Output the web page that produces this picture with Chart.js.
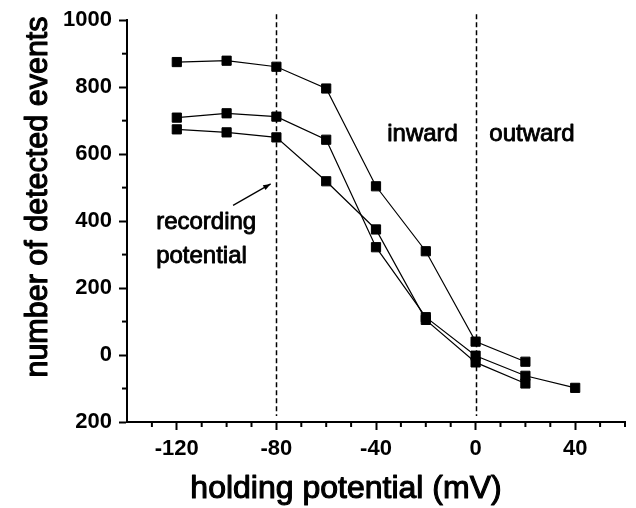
<!DOCTYPE html>
<html>
<head>
<meta charset="utf-8">
<style>
  html, body { margin: 0; padding: 0; background: #fff; }
</style>
<script src="https://cdn.jsdelivr.net/npm/chart.js@4"></script>
</head>
<body>
<canvas id="myChart" width="636" height="508"></canvas>
<script>
const holdingPotential = [-120, -100, -80, -60, -40, -20, 0, 20, 40];
const eventsTop = [875, 879, 861, 796, 504, 310, 40, -20];
const eventsMiddle = [709, 722, 712, 643, 322, 113, -2, -62, -98];
const eventsBottom = [674, 665, 650, 519, 375, 105, -22, -85];

const xTickValues = [-120, -80, -40, 0, 40];
const xTickLabels = ['-120', '-80', '-40', '0', '40'];
const xMinorTicks = [-130, -110, -100, -90, -70, -60, -50, -30, -20, -10, 10, 20, 30, 50, 60];
const yTickValues = [-200, 0, 200, 400, 600, 800, 1000];
const yTickLabels = ['200', '0', '200', '400', '600', '800', '1000'];
const yMinorTicks = [-100, 100, 300, 500, 700, 900];
const markerLines = [-80, 0];

const xTitle = 'holding potential (mV)';
const yTitle = 'number of detected events';

const FONT = "'Liberation Sans', Arial, sans-serif";
const ctx = document.getElementById('myChart').getContext('2d');

function toPoints(values) {
    return values.map((v, i) => ({ x: holdingPotential[i], y: v }));
}

function series(values) {
    return {
        data: toPoints(values),
        borderColor: '#000',
        backgroundColor: '#000',
        borderWidth: 1.2,
        pointStyle: 'rect',
        pointRadius: 6.5,
        pointBorderWidth: 1,
        tension: 0
    };
}

// fill plus a thin stroke, the scan makes the type look heavy
function heavyText(c, text, px, py) {
    c.fillText(text, px, py);
    c.strokeText(text, px, py);
}

// minor ticks, dashed lines, arrow, titles and the little labels
const extras = {
    id: 'extras',
    beforeDatasetsDraw(chart) {
        const { ctx, scales: { x }, chartArea } = chart;
        ctx.save();
        ctx.strokeStyle = '#000';
        ctx.lineWidth = 1.5;
        ctx.setLineDash([5, 3]);
        markerLines.forEach(v => {
            const px = Math.round(x.getPixelForValue(v)) + 0.5;
            ctx.beginPath();
            ctx.moveTo(px, chartArea.top - 6);
            ctx.lineTo(px, chartArea.bottom - 6);
            ctx.stroke();
        });
        ctx.restore();
    },
    afterDraw(chart) {
        const { ctx, scales: { x, y }, chartArea } = chart;
        ctx.save();
        ctx.strokeStyle = '#000';
        ctx.lineWidth = 2;
        xMinorTicks.forEach(v => {
            const px = x.getPixelForValue(v);
            ctx.beginPath();
            ctx.moveTo(px, chartArea.bottom);
            ctx.lineTo(px, chartArea.bottom + 5);
            ctx.stroke();
        });
        yMinorTicks.forEach(v => {
            const py = y.getPixelForValue(v);
            ctx.beginPath();
            ctx.moveTo(chartArea.left, py);
            ctx.lineTo(chartArea.left - 5, py);
            ctx.stroke();
        });

        // arrow to the recording potential
        const x0 = x.getPixelForValue(-97.4), y0 = y.getPixelForValue(447);
        const x1 = x.getPixelForValue(-82.3), y1 = y.getPixelForValue(511);
        const ang = Math.atan2(y1 - y0, x1 - x0);
        ctx.lineWidth = 1.3;
        ctx.beginPath();
        ctx.moveTo(x0, y0);
        ctx.lineTo(x1, y1);
        ctx.stroke();
        ctx.fillStyle = '#000';
        ctx.beginPath();
        ctx.moveTo(x1, y1);
        ctx.lineTo(x1 - 8 * Math.cos(ang - 0.35), y1 - 8 * Math.sin(ang - 0.35));
        ctx.lineTo(x1 - 8 * Math.cos(ang + 0.35), y1 - 8 * Math.sin(ang + 0.35));
        ctx.closePath();
        ctx.fill();

        ctx.lineWidth = 0.9;
        ctx.lineJoin = 'round';
        ctx.font = '24px ' + FONT;
        ctx.textAlign = 'left';
        ctx.textBaseline = 'alphabetic';
        heavyText(ctx, 'recording', x.getPixelForValue(-128.3), y.getPixelForValue(376));
        heavyText(ctx, 'potential', x.getPixelForValue(-128.3), y.getPixelForValue(275));
        heavyText(ctx, 'inward', x.getPixelForValue(-35.5), y.getPixelForValue(638));
        heavyText(ctx, 'outward', x.getPixelForValue(5.5), y.getPixelForValue(638));

        // axis titles, placed off-centre like the original
        ctx.lineWidth = 1.1;
        ctx.textAlign = 'center';
        ctx.font = '32px ' + FONT;
        heavyText(ctx, xTitle, 346, 498);
        ctx.translate(47, 197);
        ctx.rotate(-Math.PI / 2);
        ctx.font = '30.5px ' + FONT;
        heavyText(ctx, yTitle, 0, 0);
        ctx.restore();
    }
};

new Chart(ctx, {
    type: 'line',
    data: {
        datasets: [series(eventsTop), series(eventsMiddle), series(eventsBottom)]
    },
    options: {
        responsive: false,
        animation: false,
        layout: { padding: { top: 18, right: 11, left: 0, bottom: 0 } },
        plugins: {
            legend: { display: false },
            tooltip: { enabled: false }
        },
        scales: {
            x: {
                type: 'linear',
                min: -140,
                max: 60,
                afterBuildTicks: s => { s.ticks = xTickValues.map(v => ({ value: v })); },
                afterFit: s => { s.height = 86; },
                grid: { drawOnChartArea: false, tickLength: 8, tickWidth: 2, tickColor: '#000' },
                border: { color: '#000', width: 2 },
                ticks: {
                    color: '#000',
                    font: { family: FONT, size: 22, weight: 'bold' },
                    padding: 6,
                    maxRotation: 0,
                    autoSkip: false,
                    callback: v => xTickLabels[xTickValues.indexOf(v)]
                }
            },
            y: {
                type: 'linear',
                min: -200,
                max: 1000,
                afterBuildTicks: s => { s.ticks = yTickValues.map(v => ({ value: v })); },
                afterFit: s => { s.width = 127; },
                grid: { drawOnChartArea: false, tickLength: 8, tickWidth: 2, tickColor: '#000' },
                border: { color: '#000', width: 2 },
                ticks: {
                    color: '#000',
                    font: { family: FONT, size: 22, weight: 'bold' },
                    padding: 7,
                    autoSkip: false,
                    callback: v => yTickLabels[yTickValues.indexOf(v)]
                }
            }
        }
    },
    plugins: [extras]
});
</script>
</body>
</html>
